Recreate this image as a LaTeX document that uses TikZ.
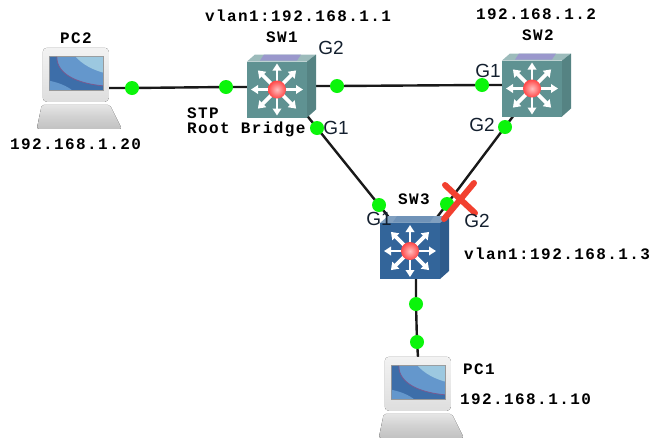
\documentclass[tikz,border=0pt]{standalone}
\usepackage{fontspec}
\usepackage{xcolor}
\usepackage{tikz}
\usetikzlibrary{arrows.meta, positioning, calc, backgrounds}
\setmainfont{Liberation Sans}
\newfontfamily\addrfont[LetterSpace=8.8]{Liberation Mono}
\definecolor{swteal}{HTML}{5F9292}
\definecolor{swblue}{HTML}{33659A}
\definecolor{bandviolet}{HTML}{9A98CC}
\definecolor{portgreen}{HTML}{0BF50B}
\definecolor{labelnavy}{HTML}{14202F}
\definecolor{screenmid}{HTML}{6497CC}
\definecolor{screendark}{HTML}{3D6EA9}
\definecolor{screenlight}{HTML}{9CC8E0}
\definecolor{screenedge}{HTML}{7A5A90}
\definecolor{blockred}{HTML}{F2402F}

\begin{document}
\begin{tikzpicture}[
  x=1pt, y=-1pt,
  swbox/.style={rectangle, inner sep=0pt, minimum width=60pt, minimum height=56pt},
  pcbox/.style={rectangle, inner sep=0pt, minimum width=66pt, minimum height=54pt},
  port/.style={circle, inner sep=0pt, minimum size=14pt, fill=portgreen},
  link/.style={line width=2.4pt, black!90},
  blocked/.style={blockred, line width=6pt, line cap=round},
  addr/.style={inner sep=0pt, anchor=west, font=\addrfont\fontsize{16}{16}\selectfont\bfseries},
  iface/.style={inner sep=0pt, text=labelnavy, font=\fontsize{19}{19}\selectfont},
  pics/switchicon/.style 2 args={code={
    \fill[#1!62!white] (-30,-28) -- (-22,-35) -- (39,-35) -- (30,-28) -- cycle;
    \fill[#2] (-13,-35) -- (24,-35) -- (20,-29) -- (-17,-29) -- cycle;
    \fill[#1!90!black] (30,-28) -- (39,-35) -- (39,20) -- (30,28) -- cycle;
    \fill[#1] (-30,-28) rectangle (30,28);
    \foreach \ang in {0,90,180,270}
      \draw[white, line width=2.8pt, -{Triangle[length=7pt,width=8.5pt]}] (0,0) -- (\ang:26);
    \foreach \ang in {45,135,225,315}
      \draw[white, line width=3.6pt, -{Triangle[length=7pt,width=9.5pt]}] (0,0) -- (\ang:27);
    \shade[inner color=red!25!white, outer color=red!72!white] (0,0) circle (9);
  }},
  pics/pcicon/.style={code={
    % monitor
    \fill[top color=black!5, bottom color=black!13, rounded corners=4pt] (0,0) rectangle (66,54);
    \fill[black!40] (6,8) rectangle (61,43);
    \begin{scope}
      \clip (7,9) rectangle (60,42);
      \fill[screenmid] (7,9) rectangle (60,42);
      \fill[screenlight] (33,9) .. controls (40,17) and (50,22) .. (61,25) -- (61,9) -- cycle;
      \fill[screendark] (7,9) -- (14,9) .. controls (14,28) and (38,36) .. (60,38) -- (60,42) -- (7,42) -- cycle;
      \draw[screenedge, line width=0.8pt] (14,9) .. controls (14,28) and (38,36) .. (60,38);
      \fill[screenmid] (7,33) .. controls (16,35) and (24,38) .. (30,43) -- (7,43) -- cycle;
    \end{scope}
    % base
    \fill[top color=black!10, bottom color=black!24, middle color=black!18, rounded corners=2pt] (-1,57) -- (67,57) -- (79,81) -- (-6,81) -- cycle;
  }}
]
  \useasboundingbox (0,0) rectangle (652,437);

  \node[swbox] (sw1) at (277,89.5) {};
  \node[swbox] (sw2) at (532,88.5) {};
  \node[swbox] (sw3) at (410,251) {};
  \node[pcbox] (pc2) at (76,75) {};
  \node[pcbox] (pc1) at (418,384) {};

  \pic at (sw1) {switchicon={swteal}{bandviolet}};
  \pic at (sw2) {switchicon={swteal}{bandviolet}};
  \pic at (sw3) {switchicon={swblue}{swblue!70!white}};
  \pic at (pc2.north west) {pcicon};
  \pic at (pc1.north west) {pcicon};

  \node[port] (p2a) at (132,88) {};
  \node[port] (s1w) at (226,87) {};
  \node[port] (s1e) at (337,86) {};
  \node[port] (s2w) at (482,85) {};
  \node[port] (s1s) at (317,128) {};
  \node[port] (s2s) at (505,127) {};
  \node[port] (s3a) at (379,205) {};
  \node[port] (s3b) at (447,204) {};
  \node[port] (s3d) at (416,304) {};
  \node[port] (p1a) at (417,342) {};

  \begin{scope}[on background layer]
    \draw[link] (pc2.east |- p2a) -- (p2a.center) -- (s1w.center) -- (sw1.west |- s1w);
    \draw[link] (sw1.east |- s1e) -- (s1e.center) -- (s2w.center) -- (sw2.west |- s2w);
    \draw[link, shorten <=-18pt, shorten >=-25pt] (s1s.center) -- (s3a.center);
    \draw[link, shorten <=-20pt, shorten >=-18pt] (s2s.center) -- (s3b.center);
    \draw[link] (s3d |- sw3.south) -- (s3d.center) -- (p1a.center) -- (pc1.north);
  \end{scope}

  % blocked port
  \draw[blocked] (444,219) -- (474,183);
  \draw[blocked] (445,185) -- (475,213);

  \node[addr] (ip1) at (205,16) {vlan1:192.168.1.1};
  \node[addr] (ip2) at (476,14) {192.168.1.2};
  \node[addr] (ip3) at (464,254) {vlan1:192.168.1.3};
  \node[addr] (ip20) at (10,144) {192.168.1.20};
  \node[addr] (ip10) at (460,399) {192.168.1.10};
  \node[addr] (lsw1) at (266,37) {SW1};
  \node[addr] (lsw2) at (522,35) {SW2};
  \node[addr] (lsw3) at (398,199) {SW3};
  \node[addr] (lpc2) at (60,38) {PC2};
  \node[addr] (lpc1) at (463,369) {PC1};
  \node[addr, align=left] (root) at (187,122.5) {STP\\[-1pt]Root Bridge};

  \node[iface] (g2a) at (331,48) {G2};
  \node[iface] (g1a) at (336,128) {G1};
  \node[iface] (g1b) at (488,71) {G1};
  \node[iface] (g2b) at (482,125) {G2};
  \node[iface] (g1c) at (379,219) {G1};
  \node[iface] (g2c) at (477,221) {G2};
\end{tikzpicture}
\end{document}
